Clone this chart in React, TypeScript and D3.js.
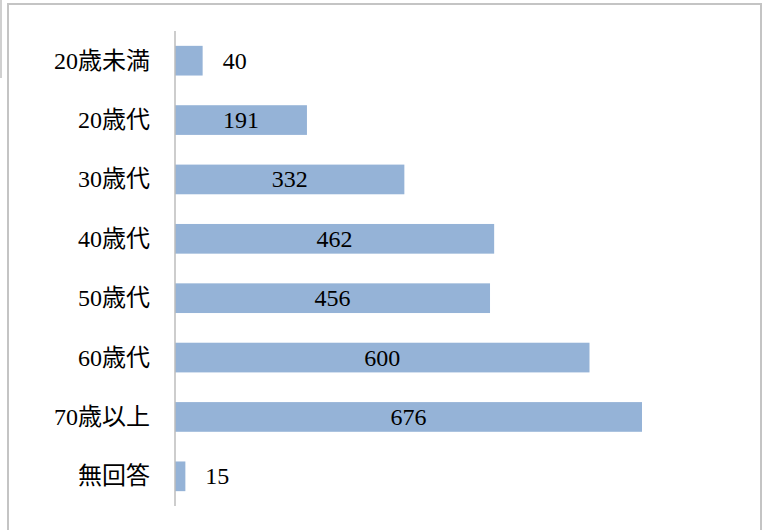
import React from "react";
import * as d3 from "d3";

const categories = ["20歳未満", "20歳代", "30歳代", "40歳代", "50歳代", "60歳代", "70歳以上", "無回答"];
const values = [40, 191, 332, 462, 456, 600, 676, 15];

const W = 767;
const H = 530;
const FONT = "'Liberation Serif', 'Noto Sans CJK JP', serif";

export default function App() {
  const x = d3.scaleLinear().domain([0, 676]).range([175, 642]);
  const y = d3
    .scaleBand<string>()
    .domain(categories)
    .range([31, 506])
    .paddingInner(0.5)
    .paddingOuter(0.25);
  const bw = y.bandwidth();

  return (
    <div style={{ position: "fixed", left: 0, top: 0, width: W, height: H, background: "#fff" }}>
      <svg width={W} height={H} style={{ display: "block" }}>
        <rect x={0} y={0} width={W} height={H} fill="#fff" />
        <path d={`M8,${H} V4 H761 V${H}`} fill="none" stroke="#c4c4c4" strokeWidth={2} />
        <line x1={1} y1={0} x2={1} y2={78} stroke="#d0d0d0" strokeWidth={2} />
        {categories.map((c, i) => (
          <rect
            key={c}
            x={x(0)}
            y={y(c)!}
            width={x(values[i]) - x(0)}
            height={bw}
            fill="#95b3d7"
          />
        ))}
        <line x1={175} y1={y.range()[0]} x2={175} y2={y.range()[1]} stroke="#bdbdbd" strokeWidth={1.5} />
        {categories.map((c) => (
          <text
            key={c}
            x={150}
            y={y(c)! + bw / 2}
            textAnchor="end"
            dominantBaseline="central"
            style={{ fontFamily: FONT, fontSize: 24 }}
            fill="#000"
          >
            {c}
          </text>
        ))}
        {categories.map((c, i) => {
          const v = values[i];
          const inside = v >= 100;
          const xe = x(v);
          return (
            <text
              key={c}
              x={inside ? (x(0) + xe) / 2 : xe + 20}
              y={y(c)! + bw / 2}
              textAnchor={inside ? "middle" : "start"}
              dominantBaseline="central"
              style={{ fontFamily: FONT, fontSize: 24 }}
              fill="#000"
            >
              {v}
            </text>
          );
        })}
      </svg>
    </div>
  );
}
